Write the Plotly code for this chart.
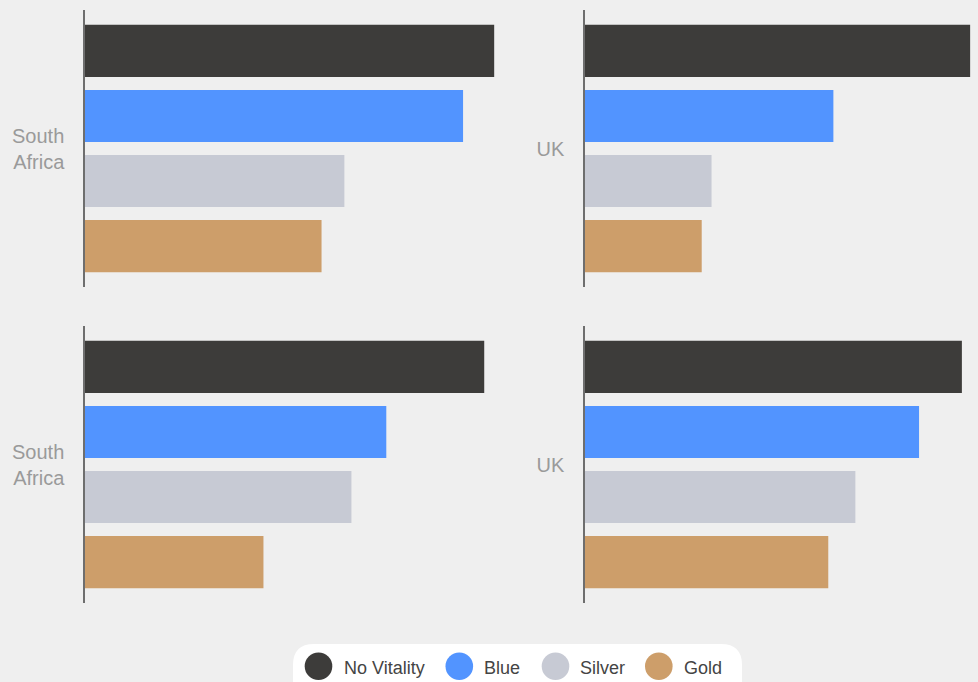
import plotly.graph_objects as go

# ---- data ----
tiers = ["No Vitality", "Blue", "Silver", "Gold"]
tier_colors = ["#3d3c3a", "#5294ff", "#c7cad4", "#cd9e6a"]
panel_labels = ["South<br>Africa", "UK", "South<br>Africa", "UK"]
values_top_left = [98.6, 91.1, 62.5, 57.0]
values_top_right = [98.0, 63.2, 32.2, 29.7]
values_bottom_left = [96.2, 72.6, 64.2, 43.0]
values_bottom_right = [95.9, 85.0, 68.8, 61.9]

W, H = 978, 682
ML, MR, MT, MB = 85, 0, 10, 79
PW, PH = W - ML - MR, H - MT - MB


def px(x):
    return (x - ML) / PW


def py(y):
    return 1 - (y - MT) / PH


panels = [
    ("x", "y", values_top_left, panel_labels[0]),
    ("x2", "y2", values_top_right, panel_labels[1]),
    ("x3", "y3", values_bottom_left, panel_labels[2]),
    ("x4", "y4", values_bottom_right, panel_labels[3]),
]

fig = go.Figure()
for xa, ya, vals, lab in panels:
    for t, c, v in zip(tiers, tier_colors, vals):
        fig.add_trace(go.Bar(
            x=[v], y=[lab], orientation="h", name=t,
            marker=dict(color=c, line=dict(width=0)),
            xaxis=xa, yaxis=ya, showlegend=False,
            hovertemplate=t + ": %{x}<extra></extra>",
        ))

left_dom = [0, px(500)]
right_dom = [px(585), 1.0]
top_dom = [py(287), 1.0]
bot_dom = [0, py(326)]

xax = dict(range=[0, 100], showgrid=False, zeroline=False, showticklabels=False,
           showline=False, fixedrange=True)
yax = dict(autorange="reversed", showgrid=False, zeroline=False, showline=True,
           linecolor="#6e6e6e", linewidth=1.5, ticks="outside", ticklen=15,
           tickcolor="rgba(0,0,0,0)",
           tickfont=dict(family="Liberation Sans, Arial, sans-serif", size=20, color="#9a9a9a"))

layout = dict(
    width=W, height=H,
    margin=dict(l=ML, r=MR, t=MT, b=MB),
    paper_bgcolor="#efefef", plot_bgcolor="#efefef",
    barmode="group", bargap=0.06, bargroupgap=0.2,
    showlegend=False,
    font=dict(family="Liberation Sans, Arial, sans-serif"),
    xaxis=dict(xax, domain=left_dom, anchor="y"),
    xaxis2=dict(xax, domain=right_dom, anchor="y2"),
    xaxis3=dict(xax, domain=left_dom, anchor="y3"),
    xaxis4=dict(xax, domain=right_dom, anchor="y4"),
    yaxis=dict(yax, domain=top_dom, anchor="x"),
    yaxis2=dict(yax, domain=top_dom, anchor="x2"),
    yaxis3=dict(yax, domain=bot_dom, anchor="x3"),
    yaxis4=dict(yax, domain=bot_dom, anchor="x4"),
)
fig.update_layout(**layout)

# ---- custom legend (white rounded box with large circles) ----
bx0, bx1, by0, by1, r = 293, 742, 644, 720, 21
path = (f"M {px(bx0)},{py(by1)} L {px(bx0)},{py(by0 + r)} "
        f"Q {px(bx0)},{py(by0)} {px(bx0 + r)},{py(by0)} "
        f"L {px(bx1 - r)},{py(by0)} Q {px(bx1)},{py(by0)} {px(bx1)},{py(by0 + r)} "
        f"L {px(bx1)},{py(by1)} Z")
shapes = [dict(type="path", xref="paper", yref="paper", path=path,
               fillcolor="#ffffff", line=dict(width=0), layer="above")]
annotations = []
circle_cx = [318.5, 459.3, 555.5, 658.8]
text_x = [341.5, 482, 577.5, 681.5]
cy, rad = 666.3, 13.8
ty = 667.8
for t, c, cx, tx in zip(tiers, tier_colors, circle_cx, text_x):
    shapes.append(dict(type="circle", xref="paper", yref="paper",
                       x0=px(cx - rad), x1=px(cx + rad), y0=py(cy + rad), y1=py(cy - rad),
                       fillcolor=c, line=dict(width=0), layer="above"))
    annotations.append(dict(text=t, xref="paper", yref="paper", x=px(tx), y=py(ty),
                            xanchor="left", yanchor="middle", showarrow=False,
                            font=dict(size=18, color="#444444",
                                      family="Liberation Sans, Arial, sans-serif")))
fig.update_layout(shapes=shapes, annotations=annotations)

fig.write_html(
    "out.html",
    config={"displayModeBar": False},
    post_script="document.body.style.margin='0';document.body.style.overflow='hidden';",
)
